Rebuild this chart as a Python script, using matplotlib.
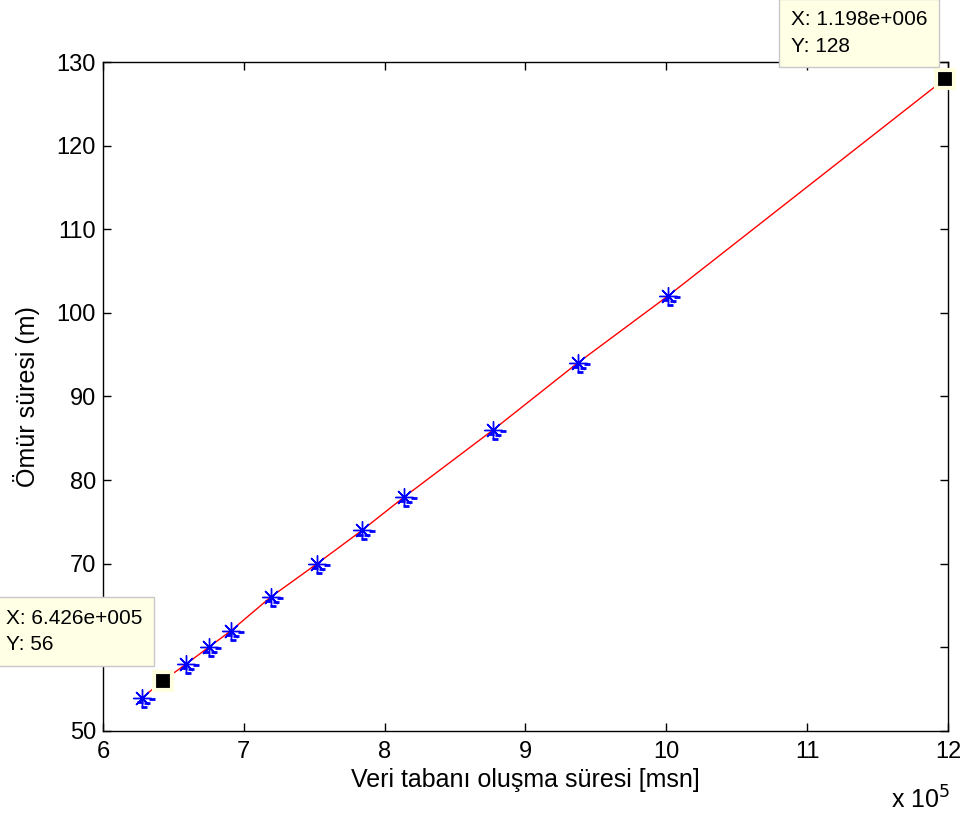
import matplotlib
matplotlib.use("Agg")
import matplotlib.pyplot as plt
import matplotlib.transforms as mtransforms

plt.rcParams['font.family'] = ['Liberation Sans', 'DejaVu Sans']

# veri tabanı oluşma süresi (x 1e5 msn) ve ömür süresi (m)
sure = [6.28, 6.426, 6.59, 6.75, 6.91, 7.19, 7.52, 7.84, 8.14, 8.77, 9.37, 10.01, 11.98]
omur = [54, 56, 58, 60, 62, 66, 70, 74, 78, 86, 94, 102, 128]

# yıldız ile işaretlenen ölçümler
olcum_x = [6.28, 6.59, 6.75, 6.91, 7.19, 7.52, 7.84, 8.14, 8.77, 9.37, 10.01]
olcum_y = [54, 58, 60, 62, 66, 70, 74, 78, 86, 94, 102]

# veri ipuçları
ipucu_x = [6.426, 11.98]
ipucu_y = [56, 128]
ipucu_metin = ["X: 6.426e+005\nY: 56", "X: 1.198e+006\nY: 128"]

fig = plt.figure(figsize=(9.76, 8.18), dpi=100)
ax = fig.add_axes([0.1055, 0.1064, 0.8658, 0.8178])

ax.plot(sure, omur, color='red', lw=1, zorder=2)
ax.plot(olcum_x, olcum_y, ls='none', marker=(8, 2, 0), color='blue', ms=13, mew=1, zorder=3)

# yıldızların altındaki küçük çizgiler
for dx, dy in [(9.5, -1), (-2.5, -4.3), (5, -5), (2, -9)]:
    off = mtransforms.offset_copy(ax.transData, fig=fig, x=dx, y=dy, units='dots')
    ax.plot(olcum_x, olcum_y, ls='none', marker='_', color='blue', ms=4, mew=2,
            transform=off, zorder=3)

ax.plot(ipucu_x, ipucu_y, ls='none', marker='s', color='black', ms=13,
        mec='#ffffe0', mew=3, zorder=5, clip_on=False)

ax.set_xlim(6, 12)
ax.set_ylim(50, 130)
ax.set_xticks(range(6, 13))
ax.set_yticks(range(50, 131, 10))
ax.tick_params(direction='in', top=True, right=True, labelsize=17, length=6, width=1)
ax.tick_params(axis='x', pad=7)
ax.tick_params(axis='y', pad=5)
for s in ax.spines.values():
    s.set_linewidth(1)

ax.set_xlabel("Veri tabanı oluşma süresi [msn]", fontsize=18, labelpad=4)
ax.set_ylabel("Ömür süresi (m)", fontsize=18, labelpad=12)
fig.text(0.913, 0.011, "x 10$^5$", fontsize=18)

kutu = dict(boxstyle='square,pad=0.55', fc='#ffffe6', ec='#c8c8c8', lw=1)
fig.text(0.006, 0.2, ipucu_metin[0], fontsize=15, linespacing=1.5,
         va='bottom', bbox=kutu, zorder=10)
fig.text(0.81, 0.932, ipucu_metin[1], fontsize=15, linespacing=1.5,
         va='bottom', bbox=kutu, zorder=10)

fig.savefig("out.png", dpi=100)
